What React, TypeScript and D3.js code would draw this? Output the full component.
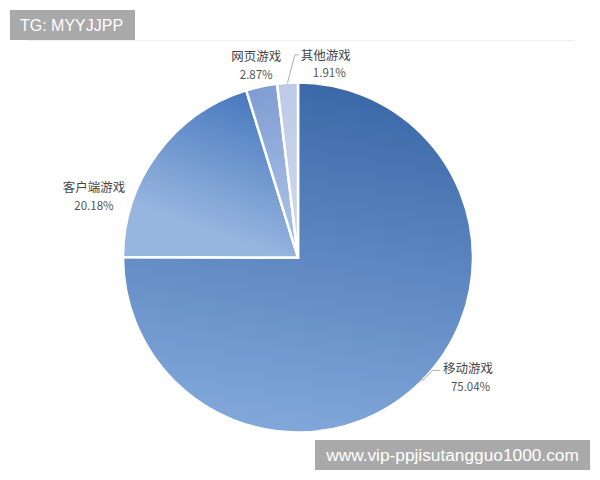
import React from "react";
import * as d3 from "d3";

const categories = ["移动游戏", "客户端游戏", "网页游戏", "其他游戏"];
const values = [75.04, 20.18, 2.87, 1.91];
const percentLabels = ["75.04%", "20.18%", "2.87%", "1.91%"];

const W = 600;
const H = 480;
const cx = 298;
const cy = 257.5;
const R = 175;

const gradStops: [string, string][] = [
  ["#3a68a7", "#82a8db"],
  ["#4678bd", "#96b5df"],
  ["#7f9dd2", "#a3bae2"],
  ["#bccae6", "#cbd6ed"],
];

export default function App() {
  const pie = d3
    .pie<number>()
    .sort(null)
    .value((d) => d)
    .startAngle(0)
    .endAngle(2 * Math.PI);
  const arcs = pie(values);
  const arcGen = d3.arc<d3.PieArcDatum<number>>().innerRadius(0).outerRadius(R);

  // local (relative to pie centre) point at angle a, radius r
  const lp = (a: number, r: number): [number, number] => [r * Math.sin(a), -r * Math.cos(a)];
  const pt = (a: number, r: number): [number, number] => {
    const [x, y] = lp(a, r);
    return [cx + x, cy + y];
  };

  const font = "'Noto Sans CJK SC', 'Noto Sans', sans-serif";

  const labels = arcs.map((a, i) => {
    const mid = (a.startAngle + a.endAngle) / 2;
    const [ax, ay] = pt(mid, R);
    if (i === 0) {
      const [bx, by] = pt(mid, R + 16);
      return {
        x: bx + 10,
        y: ay - 13.5,
        anchor: "start",
        line: [
          [ax, ay],
          [bx, ay - 11],
          [bx + 7, ay - 11],
        ],
        dx2: 8,
      };
    }
    if (i === 1) {
      const [bx, by] = pt(mid, R + 75);
      return { x: bx - 3, y: by + 78, anchor: "middle", line: null, dx2: 0 };
    }
    if (i === 2) {
      const [bx, by] = pt(mid, R + 30);
      return { x: bx + 1, y: by - 1.5, anchor: "middle", line: null, dx2: 0 };
    }
    const [bx, by] = pt(mid, R + 28);
    return {
      x: bx + 15,
      y: by - 0.5,
      anchor: "start",
      line: [
        [ax, ay],
        [bx + 9, by],
        [bx + 13, by],
      ],
      dx2: 12,
    };
  });

  return (
    <svg width={W} height={H} style={{ position: "absolute", left: 0, top: 0, background: "#fff" }}>
      <defs>
        {arcs.map((a, i) => {
          const s = a.startAngle;
          const e = a.endAngle;
          let p1: [number, number], p2: [number, number];
          if (i === 0) {
            p1 = [40, -R];
            p2 = [-20, R];
          } else if (i === 1) {
            p1 = lp(e, R);
            p2 = lp(s + 0.3, R * 0.6);
          } else {
            p1 = lp(s, R);
            p2 = lp(e, R * 0.3);
          }
          return (
            <linearGradient
              key={i}
              id={`g${i}`}
              gradientUnits="userSpaceOnUse"
              x1={p1[0]}
              y1={p1[1]}
              x2={p2[0]}
              y2={p2[1]}
            >
              <stop offset="0" stopColor={gradStops[i][0]} />
              <stop offset="1" stopColor={gradStops[i][1]} />
            </linearGradient>
          );
        })}
      </defs>

      <line x1={27} x2={575} y1={40.5} y2={40.5} stroke="#efefef" strokeWidth={1} />

      <g transform={`translate(${cx},${cy})`}>
        {arcs.map((a, i) => (
          <path
            key={i}
            d={arcGen(a) || ""}
            fill={`url(#g${i})`}
            stroke="#ffffff"
            strokeWidth={2.5}
            strokeLinejoin="miter"
          />
        ))}
      </g>

      {labels.map((l, i) => (
        <g key={i}>
          {l.line && (
            <polyline
              points={l.line.map((p) => p.join(",")).join(" ")}
              fill="none"
              stroke="#9a9a9a"
              strokeWidth={0.8}
            />
          )}
          <text
            x={l.x}
            y={l.y}
            textAnchor={l.anchor as any}
            dominantBaseline="central"
            fontFamily={font}
            fontSize={12.5}
            fill="#454545"
          >
            {categories[i]}
          </text>
          <text
            x={l.anchor === "middle" ? l.x : l.x + l.dx2}
            y={l.y + 18}
            textAnchor={l.anchor as any}
            dominantBaseline="central"
            fontFamily={font}
            fontSize={11.5}
            fill="#555555"
          >
            {percentLabels[i]}
          </text>
        </g>
      ))}

      <rect x={10} y={10} width={125} height={30} fill="#a9a9a9" />
      <text x={20} y={25} dominantBaseline="central" fontFamily="'Liberation Sans', Arial, sans-serif" fontSize={16} fill="#ffffff">
        TG: MYYJJPP
      </text>

      <rect x={315} y={440} width={275} height={30} fill="#a9a9a9" />
      <text x={452.5} y={455} textAnchor="middle" dominantBaseline="central" fontFamily="'Liberation Sans', Arial, sans-serif" fontSize={17.3} fill="#ffffff">
        www.vip-ppjisutangguo1000.com
      </text>
    </svg>
  );
}
